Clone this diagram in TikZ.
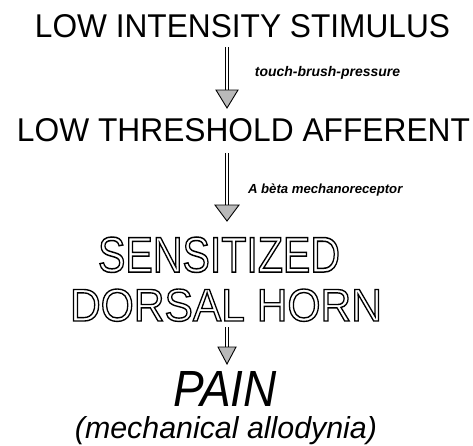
\documentclass[tikz,border=0pt]{standalone}
\usepackage{fontspec}
\setmainfont{Liberation Sans}
\usepackage{graphicx}
\usetikzlibrary{calc}
\newcommand{\outl}[1]{\special{pdf:literal direct 1 Tr 0.3 w}#1\special{pdf:literal direct 0 Tr}}
\begin{document}
\begin{tikzpicture}[x=1pt,y=-1pt,
  lbl/.style={inner sep=0pt, outer sep=0pt, anchor=base},
  shaft/.style={draw=black, double=white, double distance=2.4pt, line width=0.9pt},
  head/.style={draw=black, line width=0.9pt, fill=gray!55, line join=miter}]
\useasboundingbox (0,0) rectangle (473,445);

% main texts
\node[lbl] (stim) at (242.5,37) {\resizebox{415pt}{23pt}{LOW INTENSITY STIMULUS}};
\node[lbl] (aff) at (243.5,141) {\resizebox{453pt}{23pt}{LOW THRESHOLD AFFERENT}};
\node[lbl] (sens) at (219,272) {\resizebox{242pt}{35pt}{\outl{SENSITIZED}}};
\node[lbl] (horn) at (226,321) {\resizebox{312pt}{32pt}{\outl{DORSAL HORN}}};
\node[lbl] (pain) at (225,406) {\resizebox{104pt}{35pt}{\textit{PAIN}}};
\node[lbl] (allo) at (226,438.5) {\resizebox{302pt}{!}{\textit{(mechanical allodynia)}}};

% arrow labels
\node[lbl] (l1) at (327.5,76) {\resizebox{145pt}{!}{\textbf{\textit{touch-brush-pressure}}}};
\node[lbl] (l2) at (325.5,193) {\resizebox{155pt}{!}{\textbf{\textit{A bèta mechanoreceptor}}}};

% arrow coordinates
\coordinate (a1s) at (227,47);  \coordinate (a1h) at (227,90);  \coordinate (a1t) at (227,108);
\coordinate (a2s) at (227,153); \coordinate (a2h) at (227,205); \coordinate (a2t) at (227,221);
\coordinate (a3s) at (227,327); \coordinate (a3h) at (227,347); \coordinate (a3t) at (227,364);

% arrows
\draw[shaft] (a1s) -- (a1h);
\draw[head] ([xshift=-11pt]a1h) -- (a1t) -- ([xshift=11pt]a1h) -- cycle;
\draw[shaft] (a2s) -- (a2h);
\draw[head] ([xshift=-12pt]a2h) -- (a2t) -- ([xshift=12pt]a2h) -- cycle;
\draw[shaft] (a3s) -- (a3h);
\draw[head] ([xshift=-9pt]a3h) -- (a3t) -- ([xshift=9pt]a3h) -- cycle;
\end{tikzpicture}
\end{document}
